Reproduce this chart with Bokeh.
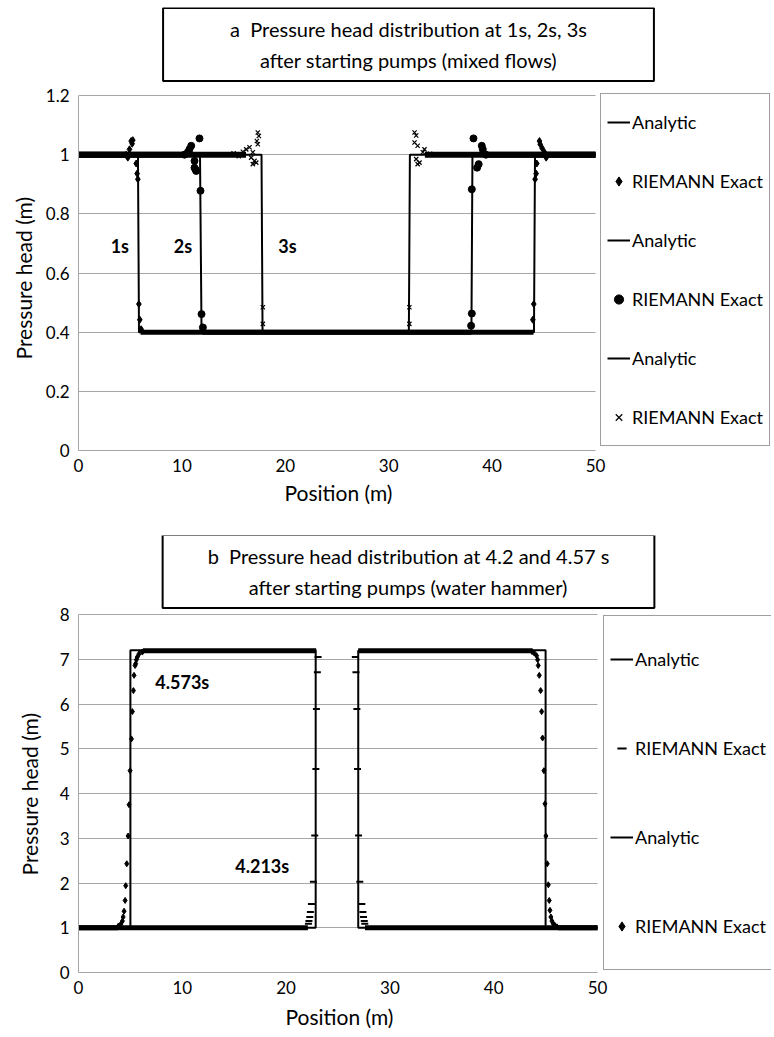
from bokeh.plotting import figure
from bokeh.models import Range1d, FixedTicker, Legend, LegendItem, Label, Title
from bokeh.layouts import column
from bokeh.embed import file_html
from bokeh.resources import INLINE
from bokeh.core.properties import value

FONT = "Lato"

# ---------------- Panel a data (mixed flows) ----------------
a_title = "a\u00a0\u00a0Pressure head distribution at 1s, 2s, 3s\nafter starting pumps (mixed flows)"
a_x_ticks = [0, 10, 20, 30, 40, 50]
a_y_ticks = [0, 0.2, 0.4, 0.6, 0.8, 1, 1.2]
a_y_tick_labels = ["0", "0.2", "0.4", "0.6", "0.8", "1", "1.2"]

analytic_1s_x = [0, 5.75, 5.85, 44.05, 44.15, 50]
analytic_1s_h = [1.0, 1.0, 0.4, 0.4, 1.0, 1.0]
analytic_2s_x = [0, 11.75, 11.9, 38.0, 38.1, 50]
analytic_2s_h = [1.0, 1.0, 0.4, 0.4, 1.0, 1.0]
analytic_3s_x = [0, 17.7, 17.8, 31.95, 32.05, 50]
analytic_3s_h = [1.0, 1.0, 0.4, 0.4, 1.0, 1.0]

# RIEMANN Exact: points around the fronts
riemann_1s_x = [4.61, 4.77, 4.93, 5.09, 5.19, 5.25, 5.58, 5.67, 5.74, 5.84, 5.93, 6.06,
                43.94, 44.03, 44.16, 44.26, 44.32, 44.58, 44.65, 44.84, 45.07, 45.23]
riemann_1s_h = [1.0, 0.99, 1.018, 1.046, 1.037, 1.049, 0.97, 0.936, 0.917, 0.495, 0.442, 0.41,
                0.442, 0.495, 0.917, 0.936, 0.97, 1.046, 1.035, 1.022, 1.008, 0.99]
riemann_2s_x = [10.25, 10.57, 10.73, 10.9, 11.22, 11.22, 11.32, 11.38, 11.7, 11.8, 11.9, 12.03,
                37.97, 38.04, 38.04, 38.55, 38.7, 38.2, 39.0, 39.1, 39.4]
riemann_2s_h = [1.0, 1.008, 1.018, 1.03, 0.979, 0.956, 0.95, 0.945, 1.055, 0.878, 0.461, 0.416,
                0.422, 0.463, 0.883, 0.956, 0.968, 1.055, 1.03, 1.018, 1.0]
riemann_3s_x = [15.0, 15.5, 15.9, 16.22, 16.54, 16.7, 16.86, 16.86, 17.02, 17.19, 17.25, 17.34, 17.34, 17.44,
                17.83, 17.83, 32.0, 32.0, 32.5, 32.5, 32.66, 32.66, 32.8, 32.8, 32.98, 33.3, 33.46, 34.0]
riemann_3s_h = [1.005, 0.995, 1.01, 1.018, 1.025, 0.99, 1.008, 0.968, 0.979, 0.973, 1.046, 1.035, 1.075, 1.063,
                0.484, 0.428, 0.428, 0.484, 1.075, 1.041, 1.065, 0.985, 1.03, 0.968, 0.973, 1.008, 1.018, 1.003]
# RIEMANN Exact: densely sampled plateaus (start, end, head)
riemann_1s_plat_x0 = [0, 6.0, 45.3]
riemann_1s_plat_x1 = [4.6, 44.0, 50]
riemann_1s_plat_h = [1.0, 0.4, 1.0]
riemann_2s_plat_x0 = [0, 12.0, 39.4]
riemann_2s_plat_x1 = [10.2, 38.0, 50]
riemann_2s_plat_h = [1.0, 0.4, 1.0]
riemann_3s_plat_x0 = [0, 17.9, 33.5]
riemann_3s_plat_x1 = [16.2, 32.0, 50]
riemann_3s_plat_h = [1.0, 0.4, 1.0]

a_time_labels = ["1s", "2s", "3s"]
a_time_label_x = [4.0, 10.1, 20.2]
a_time_label_h = [0.69, 0.69, 0.69]

# ---------------- Panel b data (water hammer) ----------------
b_title = "b\u00a0\u00a0Pressure head distribution at 4.2 and 4.57 s\nafter starting pumps (water hammer)"
b_x_ticks = [0, 10, 20, 30, 40, 50]
b_y_ticks = [0, 1, 2, 3, 4, 5, 6, 7, 8]

analytic_4213_xs = [[0, 22.85, 22.85], [26.95, 26.95, 50]]
analytic_4213_hs = [[1.0, 1.0, 7.2], [7.2, 1.0, 1.0]]
analytic_4573_xs = [[0, 5.0, 5.0, 22.9], [26.95, 45.0, 45.0, 50]]
analytic_4573_hs = [[1.0, 1.0, 7.2, 7.2], [7.2, 7.2, 1.0, 1.0]]

riemann_4213_x = [23.08, 23.01, 22.92, 22.87, 22.76, 22.63, 22.44, 22.34, 22.28, 22.2, 22.15,
                  26.67, 26.73, 26.82, 26.88, 26.98, 27.1, 27.3, 27.4, 27.46, 27.53, 27.58]
riemann_4213_h = [7.05, 6.71, 5.89, 4.55, 3.06, 2.03, 1.53, 1.35, 1.24, 1.15, 1.09,
                  7.05, 6.71, 5.89, 4.55, 3.06, 2.03, 1.53, 1.35, 1.24, 1.15, 1.09]
riemann_4573_x = [3.85, 4.07, 4.23, 4.30, 4.39, 4.49, 4.55, 4.65, 4.78, 4.87, 4.97, 5.10, 5.19, 5.29,
                  5.35, 5.45, 5.51, 5.58, 5.67, 5.83, 6.15,
                  43.7, 43.9, 44.13, 44.23, 44.29, 44.39, 44.52, 44.62, 44.71, 44.84, 44.94, 45.03,
                  45.16, 45.26, 45.35, 45.42, 45.51, 45.61, 45.74, 45.9, 46.1]
riemann_4573_h = [1.04, 1.08, 1.15, 1.24, 1.37, 1.61, 1.94, 2.43, 3.05, 3.75, 4.51, 5.22, 5.83, 6.30,
                  6.64, 6.86, 6.90, 6.99, 7.05, 7.12, 7.16,
                  7.17, 7.14, 7.08, 6.99, 6.86, 6.64, 6.30, 5.83, 5.24, 4.51, 3.77, 3.05,
                  2.43, 1.96, 1.61, 1.39, 1.24, 1.15, 1.09, 1.05, 1.02]
riemann_4213_plat_x0 = [0, 27.6]
riemann_4213_plat_x1 = [22.1, 50]
riemann_4213_plat_h = [1.0, 1.0]
riemann_4573_plat_x0 = [0, 6.2, 26.95, 46.2]
riemann_4573_plat_x1 = [3.8, 22.9, 43.7, 50]
riemann_4573_plat_h = [1.0, 7.19, 7.19, 1.0]

b_time_labels = ["4.573s", "4.213s"]
b_time_label_x = [10.0, 17.7]
b_time_label_h = [6.49, 2.39]

GRID = "#a6a6a6"
X_MAX = 50
X_LABEL = "Position (m)"
Y_LABEL = "Pressure head (m)"


def add_title_box(p, text, x, y, pad_x):
    p.add_layout(Label(x=x, y=y, x_units="screen", y_units="screen", text=text,
                       text_align="center", text_baseline="middle", text_font=FONT,
                       text_font_size="20px", text_color="black", text_line_height=1.3,
                       border_line_color="black", border_line_width=2,
                       background_fill_color="white",
                       padding=dict(left=pad_x, right=pad_x, top=9, bottom=9)))


def style(p, xticks, yticks, ylabels, y_max, x_off, y_off, y_stand, x_stand):
    p.outline_line_color = None
    p.xgrid.grid_line_color = None
    p.ygrid.grid_line_color = GRID
    p.ygrid.cross_bounds = (0, X_MAX)
    p.ygrid.bounds = (0, y_max)
    p.xaxis.bounds = (0, X_MAX)
    p.yaxis.bounds = (0, y_max)
    p.xaxis.ticker = FixedTicker(ticks=xticks)
    p.yaxis.ticker = FixedTicker(ticks=yticks)
    if ylabels is not None:
        p.yaxis.major_label_overrides = {t: l for t, l in zip(yticks, ylabels)}
    for ax in (p.xaxis[0], p.yaxis[0]):
        ax.axis_line_color = GRID
        ax.major_tick_line_color = None
        ax.minor_tick_line_color = None
        ax.major_tick_out = 0
        ax.major_tick_in = 0
        ax.major_label_text_font = FONT
        ax.major_label_text_font_size = "17px"
        ax.major_label_text_color = "black"
    p.xaxis.major_label_standoff = 8
    p.yaxis.major_label_standoff = 9
    # axis titles centred on the data area (not the whole frame)
    p.add_layout(Title(text=X_LABEL, align="left", offset=x_off, standoff=x_stand,
                       text_font=FONT, text_font_size="21px", text_font_style="normal",
                       text_color="black"), "below")
    p.add_layout(Title(text=Y_LABEL, align="left", offset=y_off, standoff=y_stand,
                       text_font=FONT, text_font_size="21px", text_font_style="normal",
                       text_color="black"), "left")


def make_legend(items, loc, glyph_h, spacing):
    return Legend(items=items, location=loc, orientation="vertical", margin=0, padding=6,
                  spacing=spacing, glyph_width=23, glyph_height=glyph_h, label_standoff=2,
                  label_text_font=FONT, label_text_font_size="18px", label_text_color="black",
                  border_line_color="#404040", border_line_width=1, background_fill_alpha=1)


# ---------------- Panel a ----------------
# data area 0..50 x 0..1.2 occupies 517 x 355 px; frame extended up/right to hold title box & legend
pa = figure(frame_width=695, frame_height=443, min_border_left=71, min_border_right=0,
            min_border_top=7, min_border_bottom=80,
            x_range=Range1d(0, X_MAX * 695 / 517), y_range=Range1d(0, 1.2 * 443 / 355),
            toolbar_location=None, output_backend="svg", align="start")
style(pa, a_x_ticks, a_y_ticks, a_y_tick_labels, 1.2, 206, 91, 13, 6)

pa.segment(x0=riemann_1s_plat_x0, y0=riemann_1s_plat_h, x1=riemann_1s_plat_x1, y1=riemann_1s_plat_h,
           line_color="black", line_width=[6, 5, 6])
pa.segment(x0=riemann_2s_plat_x0, y0=riemann_2s_plat_h, x1=riemann_2s_plat_x1, y1=riemann_2s_plat_h,
           line_color="black", line_width=[6, 5, 6])
pa.segment(x0=riemann_3s_plat_x0, y0=riemann_3s_plat_h, x1=riemann_3s_plat_x1, y1=riemann_3s_plat_h,
           line_color="black", line_width=[6, 4, 6])
la1 = pa.line(analytic_1s_x, analytic_1s_h, line_color="black", line_width=2)
la2 = pa.line(analytic_2s_x, analytic_2s_h, line_color="black", line_width=2)
la3 = pa.line(analytic_3s_x, analytic_3s_h, line_color="black", line_width=2)
ra1 = pa.scatter(riemann_1s_x, riemann_1s_h, marker="diamond", size=7, color="black")
ra2 = pa.scatter(riemann_2s_x, riemann_2s_h, marker="circle", size=7, color="black")
ra3 = pa.scatter(riemann_3s_x, riemann_3s_h, marker="x", size=6, line_color="black", line_width=1.2)
pa.text(x=a_time_label_x, y=a_time_label_h, text=a_time_labels, text_align="center",
        text_baseline="middle", text_font=value(FONT), text_font_style="bold",
        text_font_size="18px", text_color="black")
add_title_box(pa, a_title, 330, 406, 67)

leg_a = make_legend([
    LegendItem(label=value("Analytic"), renderers=[la1]),
    LegendItem(label=value("RIEMANN Exact"), renderers=[ra1]),
    LegendItem(label=value("Analytic"), renderers=[la2]),
    LegendItem(label=value("RIEMANN Exact"), renderers=[ra2]),
    LegendItem(label=value("Analytic"), renderers=[la3]),
    LegendItem(label=value("RIEMANN Exact"), renderers=[ra3]),
], (524, 4), 44, 15)
pa.add_layout(leg_a)

# ---------------- Panel b ----------------
pb = figure(frame_width=693, frame_height=437, min_border_left=73, min_border_right=0,
            min_border_top=5, min_border_bottom=65,
            x_range=Range1d(0, X_MAX * 693 / 519), y_range=Range1d(0, 8 * 437 / 358),
            toolbar_location=None, output_backend="svg", align="start")
style(pb, b_x_ticks, b_y_ticks, None, 8, 207, 97, 29, 11)

pb.segment(x0=riemann_4213_plat_x0, y0=riemann_4213_plat_h, x1=riemann_4213_plat_x1,
           y1=riemann_4213_plat_h, line_color="black", line_width=5)
pb.segment(x0=riemann_4573_plat_x0, y0=riemann_4573_plat_h, x1=riemann_4573_plat_x1,
           y1=riemann_4573_plat_h, line_color="black", line_width=5)
lb1 = pb.multi_line(analytic_4213_xs, analytic_4213_hs, line_color="black", line_width=2)
lb2 = pb.multi_line(analytic_4573_xs, analytic_4573_hs, line_color="black", line_width=2)
rb1 = pb.scatter(riemann_4213_x, riemann_4213_h, marker="dash", size=7, line_color="black", line_width=2)
rb2 = pb.scatter(riemann_4573_x, riemann_4573_h, marker="diamond", size=6, color="black")
pb.text(x=b_time_label_x, y=b_time_label_h, text=b_time_labels, text_align="center",
        text_baseline="middle", text_font=value(FONT), text_font_style="bold",
        text_font_size="18px", text_color="black")
add_title_box(pb, b_title, 330, 401, 45)

leg_b = make_legend([
    LegendItem(label=value("Analytic"), renderers=[lb2]),
    LegendItem(label=value("RIEMANN Exact"), renderers=[rb1]),
    LegendItem(label=value("Analytic"), renderers=[lb1]),
    LegendItem(label=value("RIEMANN Exact"), renderers=[rb2]),
], (525, 2), 74, 15)
pb.add_layout(leg_b)

layout = column(pa, pb, spacing=0, align="start")
open("out.html", "w").write(file_html(layout, INLINE))
